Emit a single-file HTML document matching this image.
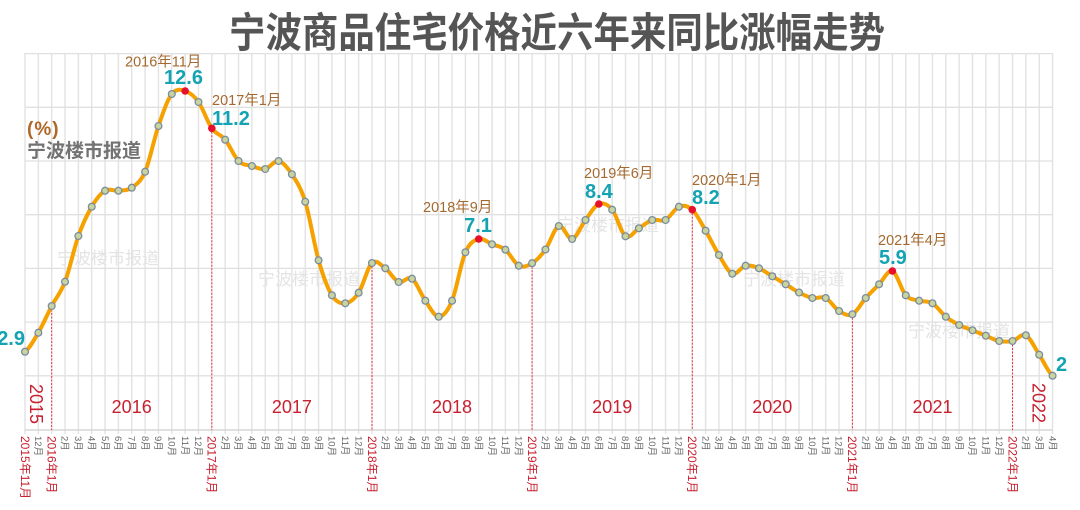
<!DOCTYPE html>
<html><head><meta charset="utf-8">
<style>
html,body{margin:0;padding:0;background:#fff;}
svg{display:block;font-family:"Liberation Sans","Noto Sans CJK SC",sans-serif;}
</style></head>
<body>
<svg id="c" width="1080" height="510" viewBox="0 0 1080 510" xmlns="http://www.w3.org/2000/svg">
<defs>
<pattern id="vg" x="18.3275" y="0" width="13.345" height="510" patternUnits="userSpaceOnUse">
<rect x="6.02" y="0" width="1.3" height="510" fill="#e0e0e0"/>
</pattern>
</defs>
<rect width="1080" height="510" fill="#fff"/>
<!-- title -->
<text x="229" y="47" font-size="41" font-weight="bold" fill="#555" textLength="656" lengthAdjust="spacingAndGlyphs">宁波商品住宅价格近六年来同比涨幅走势</text>
<!-- vertical grid -->
<rect x="24" y="53" width="1030" height="381" fill="url(#vg)"/>
<!-- horizontal grid -->
<g stroke="#e0e0e0" stroke-width="1.3">
<line x1="25" y1="53.6" x2="1052.6" y2="53.6"/>
<line x1="25" y1="107.3" x2="1052.6" y2="107.3"/>
<line x1="25" y1="161" x2="1052.6" y2="161"/>
<line x1="25" y1="214.7" x2="1052.6" y2="214.7"/>
<line x1="25" y1="268.4" x2="1052.6" y2="268.4"/>
<line x1="25" y1="322.1" x2="1052.6" y2="322.1"/>
<line x1="25" y1="375.8" x2="1052.6" y2="375.8"/>
</g>
<line x1="25" y1="430" x2="1052.6" y2="430" stroke="#d6d6d6" stroke-width="1.5"/>
<!-- watermarks -->
<g font-size="17" fill="#e4e4e4">
<text x="57" y="264">宁波楼市报道</text>
<text x="258" y="285">宁波楼市报道</text>
<text x="557" y="231">宁波楼市报道</text>
<text x="743" y="285">宁波楼市报道</text>
<text x="908" y="337">宁波楼市报道</text>
</g>
<!-- unit labels -->
<text x="27" y="135" font-size="19" font-weight="bold" fill="#b0682a" letter-spacing="1">(%)</text>
<text x="27" y="157" font-size="19" font-weight="bold" fill="#727272">宁波楼市报道</text>
<!-- dashed year lines -->
<g stroke="#e8333f" stroke-width="1" stroke-dasharray="2,1.5">
<line x1="51.7" y1="306" x2="51.7" y2="430"/>
<line x1="211.8" y1="128.3" x2="211.8" y2="430"/>
<line x1="372" y1="263" x2="372" y2="430"/>
<line x1="532.1" y1="263.2" x2="532.1" y2="430"/>
<line x1="692.3" y1="209.7" x2="692.3" y2="430"/>
<line x1="852.4" y1="314.3" x2="852.4" y2="430"/>
<line x1="1012.5" y1="341" x2="1012.5" y2="430"/>
</g>
<!-- year band labels -->
<g font-size="18" fill="#c8202f" text-anchor="middle">
<text x="131.7" y="413">2016</text>
<text x="291.9" y="413">2017</text>
<text x="452" y="413">2018</text>
<text x="612.2" y="413">2019</text>
<text x="772.3" y="413">2020</text>
<text x="932.5" y="413">2021</text>
<text transform="translate(30,404) rotate(90)">2015</text>
<text transform="translate(1032.7,403) rotate(90)">2022</text>
</g>
<!-- series -->
<path id="ln" d="M25,351.7 L38.3,332.7 L51.7,306 L65,281.7 L78.4,236 L91.7,206.7 L105.1,190.7 L118.4,190.7 L131.8,187.7 L145.1,171.7 L158.5,126 L171.8,94 L185.1,91 L198.5,102 L211.8,128.3 L225.2,139.7 L238.5,161 L251.9,166 L265.2,169 L278.6,161 L291.9,174.3 L305.2,201.7 L318.6,260.3 L331.9,295.3 L345.3,303.3 L358.6,292.7 L372,263 L385.3,268.3 L398.7,282 L412,278.7 L425.4,300.7 L438.7,316.7 L452,300.7 L465.4,252.3 L478.7,239 L492.1,244.3 L505.4,249.7 L518.8,265.7 L532.1,263.2 L545.5,249.5 L558.8,226 L572.1,239 L585.5,220 L598.8,204 L612.2,209.7 L625.5,236.3 L638.9,228.3 L652.2,220 L665.6,220 L678.9,206.7 L692.3,209.7 L705.6,230.7 L718.9,255 L732.3,273.7 L745.6,265.7 L759,268.3 L772.3,276.3 L785.7,284.3 L799,292.5 L812.4,298 L825.7,298 L839,311 L852.4,314.3 L865.7,298 L879.1,284.3 L892.4,271 L905.8,295.3 L919.1,300.7 L932.5,303.3 L945.8,316.7 L959.2,325 L972.5,330.3 L985.8,335.7 L999.2,341 L1012.5,341 L1025.9,335.3 L1039.2,354.7 L1052.6,375.7" fill="none" stroke="#f5a100" stroke-width="4" stroke-linejoin="round" stroke-linecap="round"/>
<g id="pts"></g>
<!-- annotations -->
<g font-size="14.5" fill="#a4692f">
<text x="125" y="66.5">2016年11月</text>
<text x="212" y="105">2017年1月</text>
<text x="423" y="212">2018年9月</text>
<text x="584" y="178">2019年6月</text>
<text x="692" y="185">2020年1月</text>
<text x="878" y="245">2021年4月</text>
</g>
<g font-size="20" font-weight="bold" fill="#13a3b3">
<text x="183.5" y="84" text-anchor="middle">12.6</text>
<text x="212" y="125">11.2</text>
<text x="478" y="232" text-anchor="middle">7.1</text>
<text x="585" y="198">8.4</text>
<text x="692" y="204">8.2</text>
<text x="879" y="264">5.9</text>
<text x="25" y="345" text-anchor="end">2.9</text>
<text x="1056" y="371">2</text>
</g>
<!-- red Jan labels -->
<g font-size="12" fill="#c8202f">
<text transform="translate(20.8,436) rotate(90)">2015年11月</text>
<text transform="translate(47.5,436) rotate(90)">2016年1月</text>
<text transform="translate(207.6,436) rotate(90)">2017年1月</text>
<text transform="translate(367.8,436) rotate(90)">2018年1月</text>
<text transform="translate(527.9,436) rotate(90)">2019年1月</text>
<text transform="translate(688.1,436) rotate(90)">2020年1月</text>
<text transform="translate(848.2,436) rotate(90)">2021年1月</text>
<text transform="translate(1008.3,436) rotate(90)">2022年1月</text>
</g>
<!-- gray month labels -->
<g font-size="9.5" fill="#6a6a6a">
<text transform="translate(35,436) rotate(90)">12月</text>
<text transform="translate(61.7,436) rotate(90)">2月</text>
<text transform="translate(75.1,436) rotate(90)">3月</text>
<text transform="translate(88.4,436) rotate(90)">4月</text>
<text transform="translate(101.8,436) rotate(90)">5月</text>
<text transform="translate(115.1,436) rotate(90)">6月</text>
<text transform="translate(128.5,436) rotate(90)">7月</text>
<text transform="translate(141.8,436) rotate(90)">8月</text>
<text transform="translate(155.2,436) rotate(90)">9月</text>
<text transform="translate(168.5,436) rotate(90)">10月</text>
<text transform="translate(181.8,436) rotate(90)">11月</text>
<text transform="translate(195.2,436) rotate(90)">12月</text>
<text transform="translate(221.9,436) rotate(90)">2月</text>
<text transform="translate(235.2,436) rotate(90)">3月</text>
<text transform="translate(248.6,436) rotate(90)">4月</text>
<text transform="translate(261.9,436) rotate(90)">5月</text>
<text transform="translate(275.3,436) rotate(90)">6月</text>
<text transform="translate(288.6,436) rotate(90)">7月</text>
<text transform="translate(301.9,436) rotate(90)">8月</text>
<text transform="translate(315.3,436) rotate(90)">9月</text>
<text transform="translate(328.6,436) rotate(90)">10月</text>
<text transform="translate(342,436) rotate(90)">11月</text>
<text transform="translate(355.3,436) rotate(90)">12月</text>
<text transform="translate(382,436) rotate(90)">2月</text>
<text transform="translate(395.4,436) rotate(90)">3月</text>
<text transform="translate(408.7,436) rotate(90)">4月</text>
<text transform="translate(422.1,436) rotate(90)">5月</text>
<text transform="translate(435.4,436) rotate(90)">6月</text>
<text transform="translate(448.7,436) rotate(90)">7月</text>
<text transform="translate(462.1,436) rotate(90)">8月</text>
<text transform="translate(475.4,436) rotate(90)">9月</text>
<text transform="translate(488.8,436) rotate(90)">10月</text>
<text transform="translate(502.1,436) rotate(90)">11月</text>
<text transform="translate(515.5,436) rotate(90)">12月</text>
<text transform="translate(542.2,436) rotate(90)">2月</text>
<text transform="translate(555.5,436) rotate(90)">3月</text>
<text transform="translate(568.8,436) rotate(90)">4月</text>
<text transform="translate(582.2,436) rotate(90)">5月</text>
<text transform="translate(595.5,436) rotate(90)">6月</text>
<text transform="translate(608.9,436) rotate(90)">7月</text>
<text transform="translate(622.2,436) rotate(90)">8月</text>
<text transform="translate(635.6,436) rotate(90)">9月</text>
<text transform="translate(648.9,436) rotate(90)">10月</text>
<text transform="translate(662.3,436) rotate(90)">11月</text>
<text transform="translate(675.6,436) rotate(90)">12月</text>
<text transform="translate(702.3,436) rotate(90)">2月</text>
<text transform="translate(715.6,436) rotate(90)">3月</text>
<text transform="translate(729,436) rotate(90)">4月</text>
<text transform="translate(742.3,436) rotate(90)">5月</text>
<text transform="translate(755.7,436) rotate(90)">6月</text>
<text transform="translate(769,436) rotate(90)">7月</text>
<text transform="translate(782.4,436) rotate(90)">8月</text>
<text transform="translate(795.7,436) rotate(90)">9月</text>
<text transform="translate(809.1,436) rotate(90)">10月</text>
<text transform="translate(822.4,436) rotate(90)">11月</text>
<text transform="translate(835.7,436) rotate(90)">12月</text>
<text transform="translate(862.4,436) rotate(90)">2月</text>
<text transform="translate(875.8,436) rotate(90)">3月</text>
<text transform="translate(889.1,436) rotate(90)">4月</text>
<text transform="translate(902.5,436) rotate(90)">5月</text>
<text transform="translate(915.8,436) rotate(90)">6月</text>
<text transform="translate(929.2,436) rotate(90)">7月</text>
<text transform="translate(942.5,436) rotate(90)">8月</text>
<text transform="translate(955.9,436) rotate(90)">9月</text>
<text transform="translate(969.2,436) rotate(90)">10月</text>
<text transform="translate(982.5,436) rotate(90)">11月</text>
<text transform="translate(995.9,436) rotate(90)">12月</text>
<text transform="translate(1022.6,436) rotate(90)">2月</text>
<text transform="translate(1035.9,436) rotate(90)">3月</text>
<text transform="translate(1049.3,436) rotate(90)">4月</text>
</g>
</svg>
<script>
(function(){
var ys=[351.7,332.7,306,281.7,236,206.7,190.7,190.7,187.7,171.7,126,94,91,102,128.3,139.7,161,166,169,161,174.3,201.7,260.3,295.3,303.3,292.7,263,268.3,282,278.7,300.7,316.7,300.7,252.3,239,244.3,249.7,265.7,263.2,249.5,226,239,220,204,209.7,236.3,228.3,220,220,206.7,209.7,230.7,255,273.7,265.7,268.3,276.3,284.3,292.5,298,298,311,314.3,298,284.3,271,295.3,300.7,303.3,316.7,325,330.3,335.7,341,341,335.3,354.7,375.7];
var s=13.345,n=ys.length;
function X(i){return 25+s*i;}
var d='M'+X(0).toFixed(2)+','+ys[0];
for(var i=0;i<n-1;i++){
 var p0=i>0?ys[i-1]:ys[i],p1=ys[i],p2=ys[i+1],p3=i+2<n?ys[i+2]:ys[i+1];
 var c1y=p1+(p2-p0)/6,c2y=p2-(p3-p1)/6;
 d+=' C'+(X(i)+s/3).toFixed(2)+','+c1y.toFixed(2)+' '+(X(i+1)-s/3).toFixed(2)+','+c2y.toFixed(2)+' '+X(i+1).toFixed(2)+','+p2;
}
document.getElementById('ln').setAttribute('d',d);
var red={12:1,14:1,34:1,43:1,50:1,65:1};
var g=document.getElementById('pts'),ns='http://www.w3.org/2000/svg';
for(var j=0;j<n;j++){
 var c=document.createElementNS(ns,'circle');
 c.setAttribute('cx',X(j).toFixed(2));c.setAttribute('cy',ys[j]);
 if(red[j]){c.setAttribute('r','3.8');c.setAttribute('fill','#e8112d');}
 else{c.setAttribute('r','3.4');c.setAttribute('fill','#c9d49c');c.setAttribute('stroke','#7a8ca3');c.setAttribute('stroke-width','1.3');}
 g.appendChild(c);
}
})();
</script>
</body></html>
